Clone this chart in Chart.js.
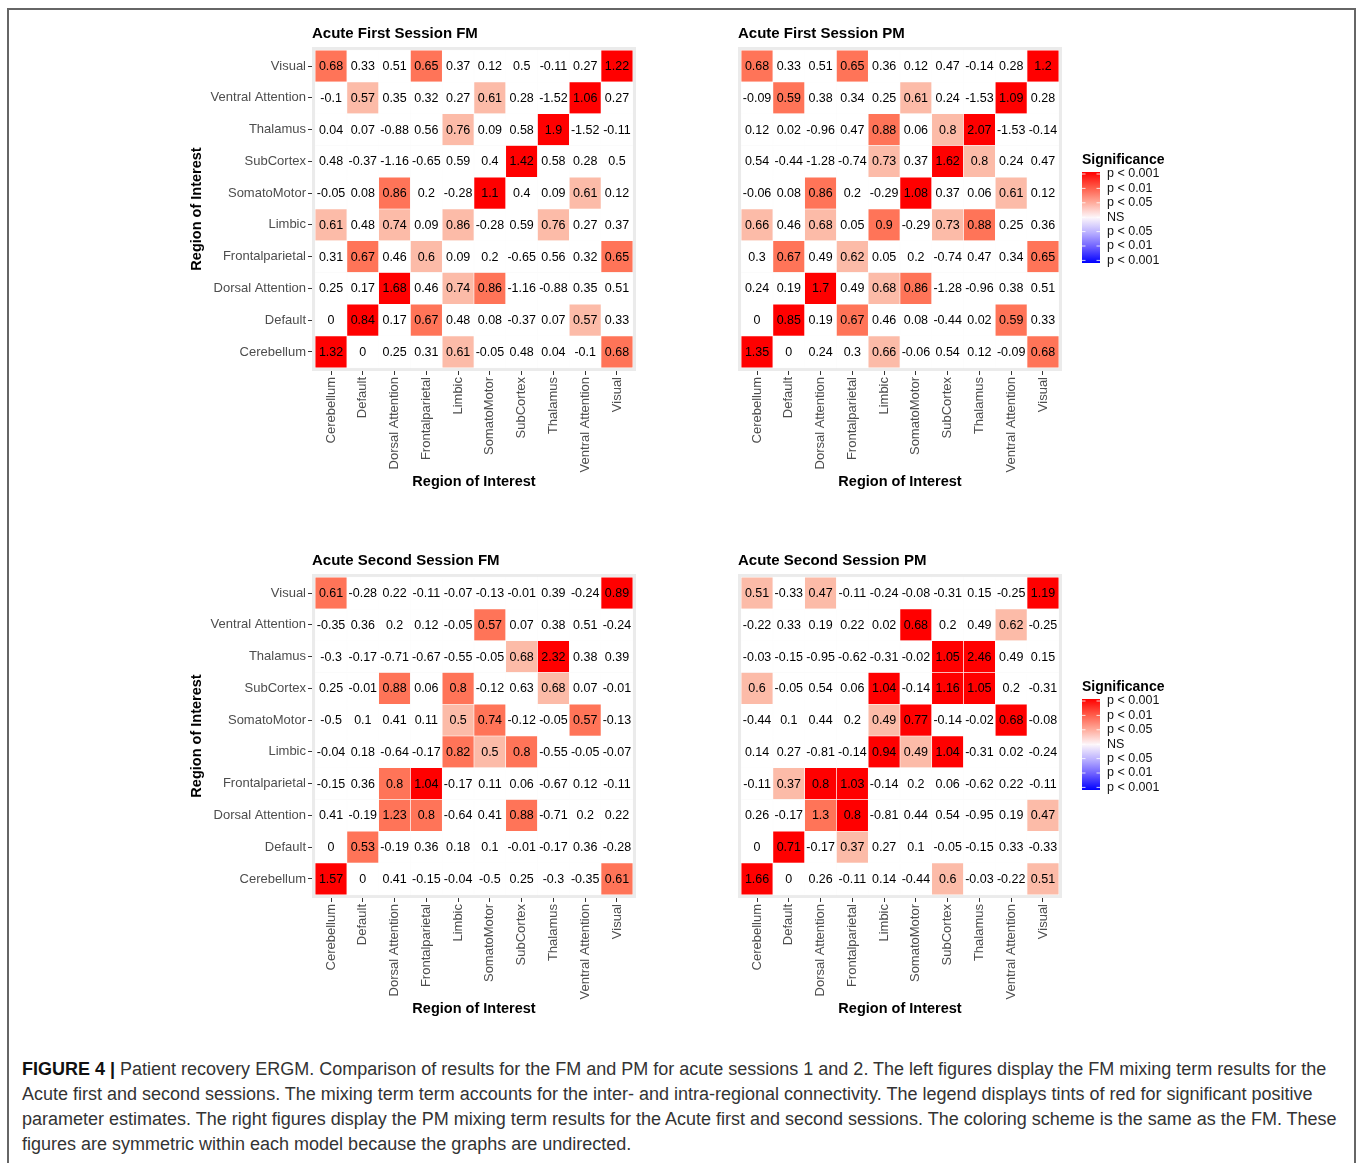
<!DOCTYPE html>
<html>
<head>
<meta charset="utf-8">
<script src="https://cdn.jsdelivr.net/npm/chart.js@4.4.1/dist/chart.umd.min.js"></script>
<style>
  body { margin: 0; background: #fff; width: 1360px; height: 1163px; overflow: hidden; position: relative; font-family: "Liberation Sans", Arial, sans-serif; }
  #frame { position: absolute; left: 7px; top: 8px; width: 1345px; height: 1200px; border: 2px solid #666; border-bottom: none; }
  canvas { position: absolute; }
  #caption { position: absolute; left: 22px; top: 1057px; font-family: "Liberation Sans Narrow", "Liberation Sans", sans-serif; font-size: 18px; line-height: 25px; color: #333; white-space: nowrap; }
  #caption b { color: #111; }
</style>
</head>
<body>
<div id="frame"></div>
<canvas id="fmFirst" width="460" height="480" style="left:180px;top:20px"></canvas>
<canvas id="pmFirst" width="460" height="480" style="left:730px;top:20px"></canvas>
<canvas id="fmSecond" width="460" height="480" style="left:180px;top:547px"></canvas>
<canvas id="pmSecond" width="460" height="480" style="left:730px;top:547px"></canvas>
<div id="caption">
<b>FIGURE 4 |</b> Patient recovery ERGM. Comparison of results for the FM and PM for acute sessions 1 and 2. The left figures display the FM mixing term results for the<br>
Acute first and second sessions. The mixing term term accounts for the inter- and intra-regional connectivity. The legend displays tints of red for significant positive<br>
parameter estimates. The right figures display the PM mixing term results for the Acute first and second sessions. The coloring scheme is the same as the FM. These<br>
figures are symmetric within each model because the graphs are undirected.
</div>

<script>
// regions, bottom -> top on y, left -> right on x
const regions = ['Cerebellum', 'Default', 'Dorsal Attention', 'Frontalparietal', 'Limbic',
  'SomatoMotor', 'SubCortex', 'Thalamus', 'Ventral Attention', 'Visual']

// matrices below are written as displayed: first row = Visual (top), last row = Cerebellum
// significance: 3 = p < 0.001, 2 = p < 0.01, 1 = p < 0.05, 0 = NS
const fmFirstValues = [
  [0.68, 0.33, 0.51, 0.65, 0.37, 0.12, 0.5, -0.11, 0.27, 1.22],
  [-0.1, 0.57, 0.35, 0.32, 0.27, 0.61, 0.28, -1.52, 1.06, 0.27],
  [0.04, 0.07, -0.88, 0.56, 0.76, 0.09, 0.58, 1.9, -1.52, -0.11],
  [0.48, -0.37, -1.16, -0.65, 0.59, 0.4, 1.42, 0.58, 0.28, 0.5],
  [-0.05, 0.08, 0.86, 0.2, -0.28, 1.1, 0.4, 0.09, 0.61, 0.12],
  [0.61, 0.48, 0.74, 0.09, 0.86, -0.28, 0.59, 0.76, 0.27, 0.37],
  [0.31, 0.67, 0.46, 0.6, 0.09, 0.2, -0.65, 0.56, 0.32, 0.65],
  [0.25, 0.17, 1.68, 0.46, 0.74, 0.86, -1.16, -0.88, 0.35, 0.51],
  [0, 0.84, 0.17, 0.67, 0.48, 0.08, -0.37, 0.07, 0.57, 0.33],
  [1.32, 0, 0.25, 0.31, 0.61, -0.05, 0.48, 0.04, -0.1, 0.68]
]
const fmFirstSig = [
  [2, 0, 0, 2, 0, 0, 0, 0, 0, 3],
  [0, 1, 0, 0, 0, 1, 0, 0, 3, 0],
  [0, 0, 0, 0, 1, 0, 0, 3, 0, 0],
  [0, 0, 0, 0, 0, 0, 3, 0, 0, 0],
  [0, 0, 2, 0, 0, 3, 0, 0, 1, 0],
  [1, 0, 1, 0, 1, 0, 0, 1, 0, 0],
  [0, 2, 0, 1, 0, 0, 0, 0, 0, 2],
  [0, 0, 3, 0, 1, 2, 0, 0, 0, 0],
  [0, 3, 0, 2, 0, 0, 0, 0, 1, 0],
  [3, 0, 0, 0, 1, 0, 0, 0, 0, 2]
]

const pmFirstValues = [
  [0.68, 0.33, 0.51, 0.65, 0.36, 0.12, 0.47, -0.14, 0.28, 1.2],
  [-0.09, 0.59, 0.38, 0.34, 0.25, 0.61, 0.24, -1.53, 1.09, 0.28],
  [0.12, 0.02, -0.96, 0.47, 0.88, 0.06, 0.8, 2.07, -1.53, -0.14],
  [0.54, -0.44, -1.28, -0.74, 0.73, 0.37, 1.62, 0.8, 0.24, 0.47],
  [-0.06, 0.08, 0.86, 0.2, -0.29, 1.08, 0.37, 0.06, 0.61, 0.12],
  [0.66, 0.46, 0.68, 0.05, 0.9, -0.29, 0.73, 0.88, 0.25, 0.36],
  [0.3, 0.67, 0.49, 0.62, 0.05, 0.2, -0.74, 0.47, 0.34, 0.65],
  [0.24, 0.19, 1.7, 0.49, 0.68, 0.86, -1.28, -0.96, 0.38, 0.51],
  [0, 0.85, 0.19, 0.67, 0.46, 0.08, -0.44, 0.02, 0.59, 0.33],
  [1.35, 0, 0.24, 0.3, 0.66, -0.06, 0.54, 0.12, -0.09, 0.68]
]
const pmFirstSig = [
  [2, 0, 0, 2, 0, 0, 0, 0, 0, 3],
  [0, 2, 0, 0, 0, 1, 0, 0, 3, 0],
  [0, 0, 0, 0, 2, 0, 1, 3, 0, 0],
  [0, 0, 0, 0, 1, 0, 3, 1, 0, 0],
  [0, 0, 2, 0, 0, 3, 0, 0, 1, 0],
  [1, 0, 1, 0, 2, 0, 1, 2, 0, 0],
  [0, 2, 0, 1, 0, 0, 0, 0, 0, 2],
  [0, 0, 3, 0, 1, 2, 0, 0, 0, 0],
  [0, 3, 0, 2, 0, 0, 0, 0, 2, 0],
  [3, 0, 0, 0, 1, 0, 0, 0, 0, 2]
]

const fmSecondValues = [
  [0.61, -0.28, 0.22, -0.11, -0.07, -0.13, -0.01, 0.39, -0.24, 0.89],
  [-0.35, 0.36, 0.2, 0.12, -0.05, 0.57, 0.07, 0.38, 0.51, -0.24],
  [-0.3, -0.17, -0.71, -0.67, -0.55, -0.05, 0.68, 2.32, 0.38, 0.39],
  [0.25, -0.01, 0.88, 0.06, 0.8, -0.12, 0.63, 0.68, 0.07, -0.01],
  [-0.5, 0.1, 0.41, 0.11, 0.5, 0.74, -0.12, -0.05, 0.57, -0.13],
  [-0.04, 0.18, -0.64, -0.17, 0.82, 0.5, 0.8, -0.55, -0.05, -0.07],
  [-0.15, 0.36, 0.8, 1.04, -0.17, 0.11, 0.06, -0.67, 0.12, -0.11],
  [0.41, -0.19, 1.23, 0.8, -0.64, 0.41, 0.88, -0.71, 0.2, 0.22],
  [0, 0.53, -0.19, 0.36, 0.18, 0.1, -0.01, -0.17, 0.36, -0.28],
  [1.57, 0, 0.41, -0.15, -0.04, -0.5, 0.25, -0.3, -0.35, 0.61]
]
const fmSecondSig = [
  [2, 0, 0, 0, 0, 0, 0, 0, 0, 3],
  [0, 0, 0, 0, 0, 2, 0, 0, 0, 0],
  [0, 0, 0, 0, 0, 0, 1, 3, 0, 0],
  [0, 0, 2, 0, 2, 0, 0, 1, 0, 0],
  [0, 0, 0, 0, 1, 2, 0, 0, 2, 0],
  [0, 0, 0, 0, 2, 1, 2, 0, 0, 0],
  [0, 0, 2, 3, 0, 0, 0, 0, 0, 0],
  [0, 0, 2, 2, 0, 0, 2, 0, 0, 0],
  [0, 2, 0, 0, 0, 0, 0, 0, 0, 0],
  [3, 0, 0, 0, 0, 0, 0, 0, 0, 2]
]

const pmSecondValues = [
  [0.51, -0.33, 0.47, -0.11, -0.24, -0.08, -0.31, 0.15, -0.25, 1.19],
  [-0.22, 0.33, 0.19, 0.22, 0.02, 0.68, 0.2, 0.49, 0.62, -0.25],
  [-0.03, -0.15, -0.95, -0.62, -0.31, -0.02, 1.05, 2.46, 0.49, 0.15],
  [0.6, -0.05, 0.54, 0.06, 1.04, -0.14, 1.16, 1.05, 0.2, -0.31],
  [-0.44, 0.1, 0.44, 0.2, 0.49, 0.77, -0.14, -0.02, 0.68, -0.08],
  [0.14, 0.27, -0.81, -0.14, 0.94, 0.49, 1.04, -0.31, 0.02, -0.24],
  [-0.11, 0.37, 0.8, 1.03, -0.14, 0.2, 0.06, -0.62, 0.22, -0.11],
  [0.26, -0.17, 1.3, 0.8, -0.81, 0.44, 0.54, -0.95, 0.19, 0.47],
  [0, 0.71, -0.17, 0.37, 0.27, 0.1, -0.05, -0.15, 0.33, -0.33],
  [1.66, 0, 0.26, -0.11, 0.14, -0.44, 0.6, -0.03, -0.22, 0.51]
]
const pmSecondSig = [
  [1, 0, 1, 0, 0, 0, 0, 0, 0, 3],
  [0, 0, 0, 0, 0, 3, 0, 0, 1, 0],
  [0, 0, 0, 0, 0, 0, 3, 3, 0, 0],
  [1, 0, 0, 0, 3, 0, 3, 3, 0, 0],
  [0, 0, 0, 0, 1, 3, 0, 0, 3, 0],
  [0, 0, 0, 0, 3, 1, 3, 0, 0, 0],
  [0, 1, 3, 3, 0, 0, 0, 0, 0, 0],
  [0, 0, 2, 3, 0, 0, 0, 0, 0, 1],
  [0, 3, 0, 1, 0, 0, 0, 0, 0, 0],
  [3, 0, 0, 0, 0, 0, 1, 0, 0, 1]
]

const sigColors = ['#FFFFFF', '#FCBBA8', '#FF7458', '#FF0000']
const legendLabels = ['p < 0.001', 'p < 0.01', 'p < 0.05', 'NS', 'p < 0.05', 'p < 0.01', 'p < 0.001']

const tickFont = { family: 'Liberation Sans', size: 13 }
const titleFont = { family: 'Liberation Sans', size: 14.5, weight: 'bold' }

function buildCells(values, sig) {
  const cells = []
  values.forEach((row, r) => {
    const yi = values.length - 1 - r
    row.forEach((v, c) => {
      cells.push({ x: c, y: [yi - 0.5, yi + 0.5], v: v, s: sig[r][c] })
    })
  })
  return cells
}

// gray panel behind the tiles
const panelBackground = {
  id: 'panelBackground',
  beforeDatasetsDraw(chart) {
    const { ctx, chartArea } = chart
    ctx.save()
    ctx.fillStyle = '#EBEBEB'
    ctx.fillRect(chartArea.left, chartArea.top, chartArea.width, chartArea.height)
    ctx.restore()
  }
}

// value printed in each tile
const cellLabels = {
  id: 'cellLabels',
  afterDatasetsDraw(chart) {
    const { ctx } = chart
    const meta = chart.getDatasetMeta(0)
    const cells = chart.data.datasets[0].data
    ctx.save()
    ctx.font = '12.5px "Liberation Sans"'
    ctx.fillStyle = '#000'
    ctx.textAlign = 'center'
    ctx.textBaseline = 'middle'
    meta.data.forEach((el, i) => {
      ctx.fillText(String(cells[i].v), el.x, (el.y + el.base) / 2 + 0.5)
    })
    ctx.restore()
  }
}

// panel title, left aligned with the panel
const panelTitle = {
  id: 'panelTitle',
  afterDraw(chart, args, opts) {
    if (!opts.text) return
    const { ctx, chartArea } = chart
    ctx.save()
    ctx.font = 'bold 15px "Liberation Sans"'
    ctx.fillStyle = '#000'
    ctx.textBaseline = 'alphabetic'
    ctx.fillText(opts.text, chartArea.left, chartArea.top - 9)
    ctx.restore()
  }
}

// significance colour bar
const sigLegend = {
  id: 'sigLegend',
  afterDraw(chart, args, opts) {
    if (!opts.show) return
    const { ctx, chartArea } = chart
    const x = chartArea.right + 20
    const top = chartArea.top + 125
    const h = 91, w = 18
    ctx.save()
    ctx.font = 'bold 14px "Liberation Sans"'
    ctx.fillStyle = '#000'
    ctx.textBaseline = 'middle'
    ctx.fillText('Significance', x, chartArea.top + 113)
    const g = ctx.createLinearGradient(0, top, 0, top + h)
    g.addColorStop(0, '#FF0000')
    g.addColorStop(0.17, '#FF5A48')
    g.addColorStop(0.33, '#FFA898')
    g.addColorStop(0.5, '#FDF6FA')
    g.addColorStop(0.67, '#B8AEFF')
    g.addColorStop(0.83, '#6A5CFF')
    g.addColorStop(1, '#0000FF')
    ctx.fillStyle = g
    ctx.fillRect(x, top, w, h)
    ctx.font = '12.5px "Liberation Sans"'
    legendLabels.forEach((lab, k) => {
      const y = top + 2 + k * 14.4
      ctx.strokeStyle = 'rgba(255,255,255,0.8)'
      ctx.lineWidth = 1
      ctx.beginPath()
      ctx.moveTo(x, y); ctx.lineTo(x + 3.5, y)
      ctx.moveTo(x + w - 3.5, y); ctx.lineTo(x + w, y)
      ctx.stroke()
      ctx.fillStyle = '#111'
      ctx.fillText(lab, x + 25, y)
    })
    ctx.restore()
  }
}

function makeHeatmap(id, title, values, sig, showY, showLegend) {
  const cells = buildCells(values, sig)
  const fixTicks = (axis) => { axis.ticks = regions.map((_, i) => ({ value: i })) }
  return new Chart(document.getElementById(id), {
    type: 'bar',
    data: {
      datasets: [{
        data: cells,
        backgroundColor: cells.map(c => sigColors[c.s]),
        borderColor: 'rgba(255,255,255,0.9)',
        borderWidth: 0.6,
        borderSkipped: false,
        barPercentage: 1,
        categoryPercentage: 1
      }]
    },
    options: {
      responsive: false,
      animation: false,
      devicePixelRatio: 1,
      layout: { padding: { top: 27, right: showLegend ? 128 : 4, left: 0, bottom: 0 } },
      plugins: {
        legend: { display: false },
        tooltip: { enabled: false },
        panelTitle: { text: title },
        sigLegend: { show: showLegend }
      },
      scales: {
        x: {
          type: 'linear',
          min: -0.6,
          max: 9.6,
          offset: false,
          afterBuildTicks: fixTicks,
          afterFit: (axis) => { axis.height = 129; axis.paddingLeft = 0; axis.paddingRight = 0 },
          ticks: {
            autoSkip: false,
            minRotation: 90,
            maxRotation: 90,
            padding: 2,
            color: '#4D4D4D',
            font: tickFont,
            callback: (v) => regions[v]
          },
          grid: { drawOnChartArea: false, drawTicks: true, tickLength: 4, color: '#333', offset: false },
          border: { display: false },
          title: { display: true, text: 'Region of Interest', color: '#000', font: titleFont, padding: { top: 4, bottom: 9 } }
        },
        y: {
          type: 'linear',
          min: -0.6,
          max: 9.6,
          afterBuildTicks: fixTicks,
          afterFit: (axis) => { axis.width = showY ? 132 : 8; axis.paddingTop = 0; axis.paddingBottom = 0 },
          ticks: {
            display: showY,
            autoSkip: false,
            padding: 2,
            color: '#4D4D4D',
            font: tickFont,
            callback: (v) => regions[v]
          },
          grid: { drawOnChartArea: false, drawTicks: showY, tickLength: 4, color: '#333' },
          border: { display: false },
          title: { display: showY, text: 'Region of Interest', color: '#000', font: titleFont, padding: { top: 8, bottom: 0 } }
        }
      }
    },
    plugins: [panelBackground, cellLabels, panelTitle, sigLegend]
  })
}

makeHeatmap('fmFirst', 'Acute First Session FM', fmFirstValues, fmFirstSig, true, false)
makeHeatmap('pmFirst', 'Acute First Session PM', pmFirstValues, pmFirstSig, false, true)
makeHeatmap('fmSecond', 'Acute Second Session FM', fmSecondValues, fmSecondSig, true, false)
makeHeatmap('pmSecond', 'Acute Second Session PM', pmSecondValues, pmSecondSig, false, true)
</script>
</body>
</html>
